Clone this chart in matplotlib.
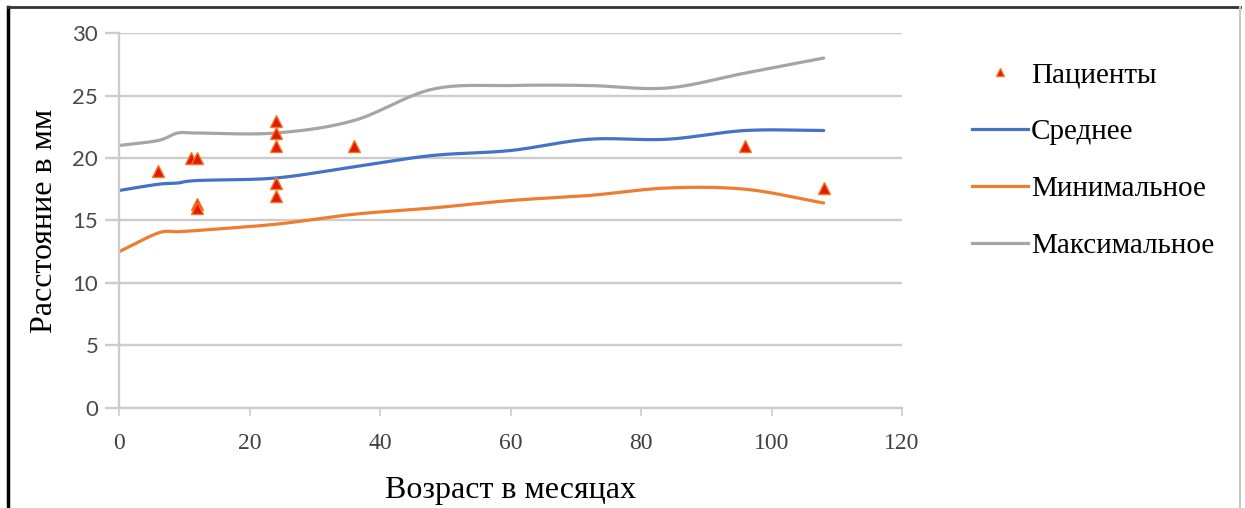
import numpy as np
import matplotlib.pyplot as plt
from matplotlib.lines import Line2D

# Возраст (месяцы) и кривые
months = [0, 6, 9, 12, 24, 36, 48, 60, 72, 84, 96, 108]
mean_mm = [17.4, 17.9, 18.0, 18.2, 18.4, 19.3, 20.2, 20.6, 21.5, 21.5, 22.2, 22.2]
min_mm = [12.5, 14.0, 14.1, 14.2, 14.7, 15.5, 16.0, 16.6, 17.0, 17.6, 17.5, 16.4]
max_mm = [21.0, 21.4, 22.0, 22.0, 22.0, 23.0, 25.5, 25.8, 25.8, 25.6, 26.8, 28.0]

# Пациенты
pat_age = [6, 11, 12, 12, 12, 24, 24, 24, 24, 24, 36, 96, 108]
pat_mm = [19, 20, 20, 16.3, 16, 23, 22, 21, 18, 17, 21, 21, 17.6]

x_ticks = [0, 20, 40, 60, 80, 100, 120]
y_ticks = [0, 5, 10, 15, 20, 25, 30]


def smooth(x, y, n=30):
    # сглаживание как в Excel (Catmull-Rom)
    x = np.asarray(x, float)
    y = np.asarray(y, float)
    px = np.concatenate([[2 * x[0] - x[1]], x, [2 * x[-1] - x[-2]]])
    py = np.concatenate([[2 * y[0] - y[1]], y, [2 * y[-1] - y[-2]]])
    xs, ys = [], []
    t = np.linspace(0, 1, n)
    for i in range(1, len(px) - 2):
        for arr, out in ((px, xs), (py, ys)):
            p0, p1, p2, p3 = arr[i - 1], arr[i], arr[i + 1], arr[i + 2]
            out.extend(0.5 * ((2 * p1) + (-p0 + p2) * t
                              + (2 * p0 - 5 * p1 + 4 * p2 - p3) * t ** 2
                              + (-p0 + 3 * p1 - 3 * p2 + p3) * t ** 3))
    return np.array(xs), np.array(ys)


fig = plt.figure(figsize=(12.45, 5.08), dpi=100)
ax = fig.add_axes([0.0956, 0.1969, 0.6289, 0.7381])

grid_c = '#cccccc'
blue = '#4472C4'
orange = '#ED7D31'
gray = '#A5A5A5'

for ys, c in ((mean_mm, blue), (min_mm, orange), (max_mm, gray)):
    sx, sy = smooth(months, ys)
    ax.plot(sx, sy, color=c, lw=2.3, solid_capstyle='round')

ax.plot(pat_age, pat_mm, ls='none', marker='^', ms=8.5,
        markerfacecolor='#E3170A', markeredgecolor='#F47A20', markeredgewidth=1)

ax.set_xlim(0, 120)
ax.set_ylim(0, 30)
ax.set_xticks(x_ticks)
ax.set_yticks(y_ticks)
ax.yaxis.grid(True, color=grid_c, lw=1.7)
ax.set_axisbelow(True)
for s in ('top', 'right'):
    ax.spines[s].set_visible(False)
for s in ('left', 'bottom'):
    ax.spines[s].set_color(grid_c)
    ax.spines[s].set_linewidth(1.7)
ax.tick_params(axis='y', length=10, width=1.7, color=grid_c, pad=5)
ax.tick_params(axis='x', length=6, width=1.2, color=grid_c, pad=12)
for lab in ax.get_yticklabels():
    lab.set_fontfamily('Lato')
    lab.set_fontsize(16)
    lab.set_color('#4a4a4a')
for lab in ax.get_xticklabels():
    lab.set_fontfamily('Liberation Serif')
    lab.set_fontsize(17)
    lab.set_color('#404040')

ax.set_xlabel('Возраст в месяцах', family='Liberation Serif', fontsize=23, labelpad=16)
ax.set_ylabel('Расстояние в мм', family='Liberation Serif', fontsize=23, labelpad=10)

handles = [
    Line2D([], [], ls='none', marker='^', ms=6, markerfacecolor='#E3170A',
           markeredgecolor='#F47A20'),
    Line2D([], [], color=blue, lw=2.3),
    Line2D([], [], color=orange, lw=2.3),
    Line2D([], [], color=gray, lw=2.3),
]
fig.legend(handles, ['Пациенты', 'Среднее', 'Минимальное', 'Максимальное'],
           loc='upper left', bbox_to_anchor=(0.760, 0.93), frameon=False,
           prop={'family': 'Liberation Serif', 'size': 21}, handlelength=1.9,
           handletextpad=0.1, labelspacing=1.05)

# рамка вокруг рисунка
fig.add_artist(Line2D([0.0065, 0.0065], [0, 0.986], color='black', lw=2.5))
fig.add_artist(Line2D([0.0065, 0.996], [0.986, 0.986], color='#333333', lw=2))
fig.add_artist(Line2D([0.996, 0.996], [0, 0.986], color='#c8c8c8', lw=1.5))

fig.savefig('out.png', dpi=100)
